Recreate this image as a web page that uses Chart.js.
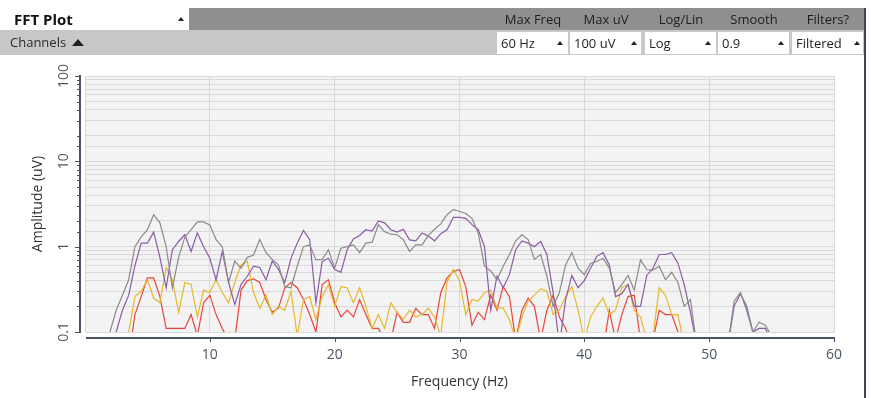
<!DOCTYPE html>
<html>
<head>
<meta charset="utf-8">
<script src="https://cdn.jsdelivr.net/npm/chart.js@4/dist/chart.umd.min.js"></script>
<style>
  html, body { margin: 0; padding: 0; background: #fff; }
  body { width: 872px; height: 398px; overflow: hidden; position: relative; font-family: "Open Sans", "DejaVu Sans", sans-serif; }
  #plot { position: absolute; left: 0; top: 0; }
  .bar1 { position: absolute; top: 8px; left: 189px; width: 676px; height: 22px; background: #8f8f8f; }
  .bar2 { position: absolute; top: 30px; left: 0; width: 865px; height: 25px; background: #c8c8c8; }
  .titlebox { position: absolute; top: 8px; left: 10px; width: 178px; height: 22px; background: #fff; }
  .titlebox span { position: absolute; left: 4px; top: 0; line-height: 22px; font-size: 15px; font-weight: 700; color: #111; }
  .tri { position: absolute; width: 0; height: 0; border-left: 3px solid transparent; border-right: 3px solid transparent; border-bottom: 4px solid #222; }
  .chan { position: absolute; left: 10px; top: 30px; line-height: 25px; font-size: 13px; color: #2a2a2a; }
  .chanTri { position: absolute; left: 72px; top: 39px; width: 0; height: 0; border-left: 6px solid transparent; border-right: 6px solid transparent; border-bottom: 7px solid #222; }
  .head { position: absolute; top: 8px; height: 22px; line-height: 22px; font-size: 13px; color: #1e1e1e; text-align: center; width: 72px; }
  .dd { position: absolute; top: 32px; height: 22px; width: 71px; background: #fff; font-size: 13px; color: #1e1e1e; line-height: 22px; }
  .dd span { position: absolute; left: 4px; top: 0; }
  .edge { position: absolute; left: 864px; top: 8px; width: 2px; height: 390px; background: #3d4452; }
</style>
</head>
<body>
<canvas id="plot" width="872" height="398"></canvas>

<div class="bar1"></div>
<div class="bar2"></div>
<div class="titlebox"><span>FFT Plot</span><div class="tri" style="left:168px;top:9px;"></div></div>
<div class="chan">Channels</div>
<div class="chanTri"></div>

<div class="head" style="left:497px;">Max Freq</div>
<div class="head" style="left:570px;">Max uV</div>
<div class="head" style="left:645px;">Log/Lin</div>
<div class="head" style="left:718px;">Smooth</div>
<div class="head" style="left:792px;">Filters?</div>

<div class="dd" style="left:497px;"><span>60 Hz</span><div class="tri" style="left:60px;top:9px;"></div></div>
<div class="dd" style="left:570px;"><span>100 uV</span><div class="tri" style="left:61px;top:9px;"></div></div>
<div class="dd" style="left:645px;"><span>Log</span><div class="tri" style="left:60px;top:9px;"></div></div>
<div class="dd" style="left:718px;"><span>0.9</span><div class="tri" style="left:60px;top:9px;"></div></div>
<div class="dd" style="left:792px;"><span>Filtered</span><div class="tri" style="left:62px;top:9px;"></div></div>

<div class="edge"></div>

<script>
// Frequency bins (Hz), 0.5 Hz apart, starting at 1 Hz
const FREQ_START = 1.0;
const FREQ_STEP = 0.5;
const FREQ_HZ = Array.from({ length: 110 }, (_, i) => FREQ_START + i * FREQ_STEP);

// Spectral amplitude per channel (uV), one row per 5 Hz
const ch1Grey = [
  0.05, 0.07, 0.10, 0.18, 0.27, 0.41, 1.00, 1.30, 1.58, 2.37,
  1.90, 1.00, 0.33, 0.75, 1.30, 1.58, 1.95, 1.95, 1.80, 1.21,
  1.00, 0.38, 0.68, 0.56, 0.75, 0.80, 1.21, 0.85, 0.71, 0.61,
  0.34, 0.33, 0.59, 1.00, 1.05, 0.70, 0.71, 0.92, 0.56, 0.96,
  1.00, 1.05, 0.85, 1.10, 1.13, 1.81, 1.50, 1.40, 1.38, 1.21,
  0.88, 1.05, 1.05, 1.35, 1.60, 1.85, 2.37, 2.72, 2.60, 2.45,
  2.15, 1.45, 0.59, 0.52, 0.41, 0.59, 0.81, 1.17, 1.38, 1.21,
  0.71, 0.81, 0.45, 0.20, 0.29, 0.61, 0.85, 0.56, 0.47, 0.64,
  0.67, 0.73, 0.56, 0.29, 0.36, 0.46, 0.31, 0.70, 0.54, 0.53,
  0.59, 0.41, 0.50, 0.38, 0.20, 0.24, 0.07, 0.05, 0.05, 0.05,
  0.05, 0.07, 0.23, 0.29, 0.18, 0.10, 0.13, 0.12, 0.09, 0.06
];
const ch2Purple = [
  0.05, 0.05, 0.05, 0.10, 0.18, 0.27, 0.60, 1.10, 1.10, 1.48,
  0.75, 0.33, 0.92, 1.15, 1.38, 0.88, 1.45, 1.00, 0.73, 0.41,
  0.88, 0.38, 0.21, 0.36, 0.45, 0.59, 0.57, 0.41, 0.68, 0.54,
  0.38, 0.73, 1.10, 1.55, 1.21, 0.22, 0.67, 0.73, 0.54, 0.50,
  0.92, 1.23, 1.35, 1.58, 1.52, 2.00, 1.90, 1.58, 1.48, 1.60,
  1.20, 1.17, 1.45, 1.33, 1.17, 1.42, 1.58, 2.20, 2.20, 2.15,
  1.81, 1.58, 1.00, 0.18, 0.45, 0.33, 0.47, 0.92, 1.17, 1.10,
  1.00, 1.15, 0.81, 0.29, 0.07, 0.24, 0.46, 0.33, 0.40, 0.56,
  0.77, 0.85, 0.61, 0.26, 0.28, 0.36, 0.20, 0.20, 0.46, 0.56,
  0.81, 0.81, 0.85, 0.64, 0.36, 0.17, 0.07, 0.05, 0.05, 0.05,
  0.05, 0.07, 0.20, 0.28, 0.20, 0.10, 0.11, 0.11, 0.08, 0.05
];
const ch5Yellow = [
  0.05, 0.05, 0.05, 0.05, 0.05, 0.10, 0.26, 0.30, 0.41, 0.25,
  0.22, 0.57, 0.41, 0.17, 0.38, 0.36, 0.15, 0.31, 0.29, 0.41,
  0.29, 0.22, 0.38, 0.61, 0.67, 0.29, 0.19, 0.27, 0.16, 0.20,
  0.18, 0.30, 0.09, 0.24, 0.26, 0.14, 0.26, 0.36, 0.20, 0.34,
  0.33, 0.22, 0.33, 0.20, 0.11, 0.16, 0.11, 0.22, 0.17, 0.14,
  0.18, 0.15, 0.16, 0.19, 0.15, 0.09, 0.38, 0.54, 0.40, 0.16,
  0.24, 0.23, 0.29, 0.31, 0.19, 0.19, 0.14, 0.08, 0.15, 0.23,
  0.27, 0.32, 0.30, 0.16, 0.18, 0.26, 0.34, 0.18, 0.08, 0.15,
  0.20, 0.25, 0.16, 0.18, 0.33, 0.36, 0.18, 0.15, 0.08, 0.09,
  0.33, 0.27, 0.16, 0.16, 0.07, 0.05, 0.05, 0.05, 0.05, 0.05,
  0.05, 0.05, 0.05, 0.05, 0.05, 0.05, 0.05, 0.05, 0.05, 0.05
];
const ch7Red = [
  0.05, 0.05, 0.05, 0.05, 0.05, 0.05, 0.16, 0.26, 0.43, 0.43,
  0.26, 0.11, 0.11, 0.11, 0.11, 0.16, 0.09, 0.22, 0.27, 0.16,
  0.11, 0.08, 0.08, 0.31, 0.40, 0.42, 0.38, 0.24, 0.17, 0.19,
  0.33, 0.38, 0.33, 0.24, 0.16, 0.10, 0.36, 0.41, 0.22, 0.15,
  0.18, 0.15, 0.24, 0.16, 0.11, 0.11, 0.08, 0.08, 0.17, 0.13,
  0.13, 0.19, 0.16, 0.16, 0.11, 0.29, 0.43, 0.51, 0.54, 0.34,
  0.12, 0.17, 0.14, 0.27, 0.18, 0.34, 0.26, 0.08, 0.18, 0.25,
  0.20, 0.08, 0.18, 0.27, 0.15, 0.11, 0.07, 0.06, 0.06, 0.06,
  0.06, 0.06, 0.18, 0.08, 0.16, 0.26, 0.27, 0.08, 0.06, 0.08,
  0.18, 0.16, 0.16, 0.10, 0.06, 0.05, 0.05, 0.05, 0.05, 0.05,
  0.05, 0.05, 0.05, 0.05, 0.05, 0.05, 0.05, 0.05, 0.05, 0.05
];

// Axis ranges and labelled ticks
const X_MIN = 0, X_MAX = 60, X_STEP = 10;
const Y_MIN = 0.1, Y_MAX = 100;

const AXIS_COLOR = '#4a5364';
const TICK_TEXT = '#4d5563';
const GRID_COLOR = '#d9d9d9';
const PLOT_BG = '#f3f3f3';

function series(values) {
  return values.map((v, i) => ({ x: FREQ_HZ[i], y: v }));
}

// Grey plot background behind the grid
const plotBackground = {
  id: 'plotBackground',
  beforeDraw(chart) {
    const { ctx, chartArea: a } = chart;
    ctx.save();
    ctx.fillStyle = PLOT_BG;
    ctx.fillRect(a.left, a.top, a.right - a.left, a.bottom - a.top);
    ctx.restore();
  }
};

// Axis lines set slightly apart from the plot, with their tick marks
const detachedAxes = {
  id: 'detachedAxes',
  afterDraw(chart) {
    const { ctx, chartArea: a, scales } = chart;
    const xs = scales.x, ys = scales.y;
    ctx.save();
    ctx.strokeStyle = AXIS_COLOR;

    const axisY = a.bottom + 6;
    ctx.lineWidth = 2;
    ctx.beginPath();
    ctx.moveTo(a.left + 1, axisY);
    ctx.lineTo(a.right + 1, axisY);
    ctx.stroke();
    ctx.lineWidth = 1;
    xs.ticks.forEach(t => {
      if (t.value === X_MIN) return;
      const px = Math.round(xs.getPixelForValue(t.value)) + 0.5;
      ctx.beginPath();
      ctx.moveTo(px, axisY);
      ctx.lineTo(px, axisY + 4);
      ctx.stroke();
    });

    const axisX = a.left - 5;
    ctx.lineWidth = 2;
    ctx.beginPath();
    ctx.moveTo(axisX, a.top - 1);
    ctx.lineTo(axisX, a.bottom + 1);
    ctx.stroke();
    ctx.lineWidth = 1;
    ys.ticks.forEach(t => {
      const py = Math.round(ys.getPixelForValue(t.value)) + 0.5;
      const lg = Math.log10(t.value);
      const major = Math.abs(lg - Math.round(lg)) < 1e-6;
      ctx.beginPath();
      ctx.moveTo(axisX, py);
      ctx.lineTo(axisX - (major ? 5 : 3), py);
      ctx.stroke();
    });
    ctx.restore();
  }
};

const lineStyle = { borderWidth: 1.2, pointRadius: 0, tension: 0, fill: false, clip: 0 };

new Chart(document.getElementById('plot'), {
  type: 'line',
  data: {
    datasets: [
      Object.assign({ label: 'Channel 1', data: series(ch1Grey), borderColor: '#8a8a8a' }, lineStyle),
      Object.assign({ label: 'Channel 2', data: series(ch2Purple), borderColor: '#8b5aa8' }, lineStyle),
      Object.assign({ label: 'Channel 5', data: series(ch5Yellow), borderColor: '#e6b82a' }, lineStyle),
      Object.assign({ label: 'Channel 7', data: series(ch7Red), borderColor: '#e8463c' }, lineStyle)
    ]
  },
  options: {
    responsive: false,
    animation: false,
    devicePixelRatio: 1,
    layout: { padding: { top: 76, right: 38, bottom: 0, left: 0 } },
    plugins: { legend: { display: false }, tooltip: { enabled: false } },
    scales: {
      x: {
        type: 'linear',
        min: X_MIN, max: X_MAX,
        afterFit(s) { s.height = 66; },
        border: { display: false },
        grid: { color: GRID_COLOR, lineWidth: 1, drawTicks: false },
        ticks: {
          stepSize: X_STEP, padding: 15, color: TICK_TEXT,
          font: { family: 'Open Sans', size: 14 },
          maxRotation: 0,
          callback: v => (v === X_MIN ? '' : String(v))
        },
        title: {
          display: true, text: 'Frequency (Hz)', color: '#333',
          font: { family: 'Open Sans', size: 14 },
          padding: { top: 0, bottom: 8 }
        }
      },
      y: {
        type: 'logarithmic',
        min: Y_MIN, max: Y_MAX,
        afterFit(s) { s.width = 85; },
        border: { display: false },
        grid: { color: GRID_COLOR, lineWidth: 1, drawTicks: false },
        ticks: {
          autoSkip: false, minRotation: 90, maxRotation: 90,
          crossAlign: 'center', padding: 9, color: TICK_TEXT,
          font: { family: 'Open Sans', size: 14 },
          callback(v) {
            const lg = Math.log10(v);
            return Math.abs(lg - Math.round(lg)) < 1e-6 ? String(v) : '';
          }
        },
        title: {
          display: true, text: 'Amplitude (uV)', color: '#333',
          font: { family: 'Open Sans', size: 14 },
          padding: { top: 30, bottom: 0 }
        }
      }
    }
  },
  plugins: [plotBackground, detachedAxes]
});
</script>
</body>
</html>
